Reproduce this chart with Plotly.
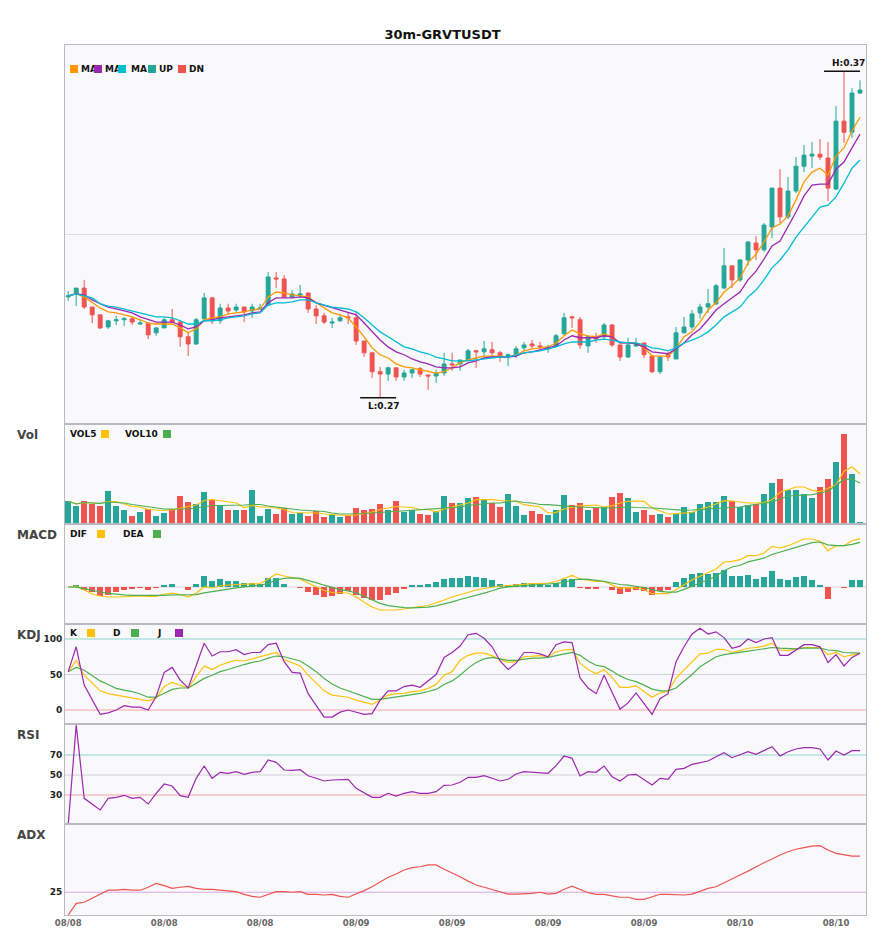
import plotly.graph_objects as go
from plotly.subplots import make_subplots

# ---- data (30m GRVTUSDT, 100 candles) ----
opens = [0.3009, 0.3018, 0.3036, 0.2978, 0.2954, 0.2917, 0.2936, 0.2939, 0.2942, 0.2926,
         0.2929, 0.2899, 0.2914, 0.2939, 0.2932, 0.2887, 0.2865, 0.2942, 0.3006, 0.2936,
         0.2975, 0.2969, 0.2978, 0.2966, 0.2972, 0.2984, 0.3067, 0.3064, 0.3009, 0.3015,
         0.3021, 0.2972, 0.2951, 0.2929, 0.2936, 0.2948, 0.2945, 0.2874, 0.2838, 0.2780,
         0.2773, 0.2792, 0.2764, 0.2776, 0.2789, 0.2770, 0.2767, 0.2776, 0.2804, 0.2804,
         0.2816, 0.2844, 0.2841, 0.2847, 0.2838, 0.2828, 0.2832, 0.2853, 0.2865, 0.2859,
         0.2850, 0.2859, 0.2896, 0.2948, 0.2939, 0.2859, 0.2887, 0.2887, 0.2923, 0.2862,
         0.2825, 0.2859, 0.2868, 0.2828, 0.2780, 0.2832, 0.2819, 0.2899, 0.2917, 0.2960,
         0.2978, 0.2988, 0.3036, 0.3104, 0.3061, 0.3122, 0.3174, 0.3153, 0.3223, 0.3342,
         0.3254, 0.3333, 0.3409, 0.3440, 0.3446, 0.3434, 0.3339, 0.3547, 0.3513, 0.3633]
highs = [0.3027, 0.3036, 0.3061, 0.2978, 0.2954, 0.2939, 0.2951, 0.2948, 0.2948, 0.2942,
         0.2929, 0.2917, 0.2945, 0.2972, 0.2939, 0.2902, 0.2945, 0.3021, 0.3009, 0.2988,
         0.2988, 0.2988, 0.2978, 0.2988, 0.2988, 0.3085, 0.3085, 0.3076, 0.3030, 0.3046,
         0.3021, 0.2984, 0.2960, 0.2945, 0.2957, 0.2963, 0.2960, 0.2874, 0.2838, 0.2795,
         0.2795, 0.2792, 0.2786, 0.2789, 0.2795, 0.2770, 0.2786, 0.2838, 0.2838, 0.2816,
         0.2850, 0.2847, 0.2874, 0.2871, 0.2844, 0.2835, 0.2859, 0.2871, 0.2877, 0.2871,
         0.2862, 0.2896, 0.2960, 0.2951, 0.2948, 0.2890, 0.2899, 0.2929, 0.2926, 0.2862,
         0.2884, 0.2884, 0.2868, 0.2828, 0.2825, 0.2841, 0.2917, 0.2948, 0.2969, 0.2988,
         0.3033, 0.3049, 0.3159, 0.3104, 0.3125, 0.3180, 0.3195, 0.3235, 0.3342, 0.3400,
         0.3376, 0.3437, 0.3474, 0.3483, 0.3492, 0.3483, 0.3593, 0.3700, 0.3648, 0.3672]
lows = [0.2997, 0.2981, 0.2972, 0.2929, 0.2911, 0.2911, 0.2923, 0.2920, 0.2923, 0.2923,
        0.2880, 0.2890, 0.2914, 0.2929, 0.2856, 0.2828, 0.2862, 0.2939, 0.2926, 0.2926,
        0.2954, 0.2960, 0.2932, 0.2945, 0.2969, 0.2981, 0.3036, 0.3006, 0.3006, 0.3006,
        0.2960, 0.2926, 0.2926, 0.2914, 0.2932, 0.2926, 0.2862, 0.2825, 0.2761, 0.2700,
        0.2752, 0.2752, 0.2752, 0.2761, 0.2764, 0.2725, 0.2746, 0.2767, 0.2783, 0.2783,
        0.2813, 0.2792, 0.2828, 0.2822, 0.2810, 0.2798, 0.2822, 0.2844, 0.2850, 0.2847,
        0.2838, 0.2856, 0.2890, 0.2914, 0.2850, 0.2838, 0.2868, 0.2880, 0.2856, 0.2813,
        0.2822, 0.2856, 0.2822, 0.2776, 0.2773, 0.2813, 0.2819, 0.2899, 0.2908, 0.2942,
        0.2960, 0.2984, 0.3033, 0.3036, 0.3055, 0.3104, 0.3122, 0.3147, 0.3189, 0.3235,
        0.3247, 0.3327, 0.3391, 0.3403, 0.3428, 0.3302, 0.3336, 0.3480, 0.3495, 0.3630]
closes = [0.3012, 0.3036, 0.2978, 0.2954, 0.2914, 0.2936, 0.2939, 0.2942, 0.2932, 0.2929,
          0.2893, 0.2914, 0.2939, 0.2932, 0.2887, 0.2865, 0.2939, 0.3006, 0.2936, 0.2975,
          0.2966, 0.2978, 0.2963, 0.2978, 0.2975, 0.3070, 0.3064, 0.3009, 0.3018, 0.3018,
          0.2972, 0.2951, 0.2932, 0.2932, 0.2945, 0.2945, 0.2874, 0.2838, 0.2780, 0.2773,
          0.2792, 0.2764, 0.2776, 0.2786, 0.2773, 0.2767, 0.2776, 0.2804, 0.2801, 0.2816,
          0.2844, 0.2841, 0.2850, 0.2838, 0.2825, 0.2832, 0.2850, 0.2862, 0.2859, 0.2856,
          0.2856, 0.2890, 0.2945, 0.2945, 0.2862, 0.2887, 0.2880, 0.2923, 0.2862, 0.2825,
          0.2862, 0.2862, 0.2832, 0.2780, 0.2825, 0.2825, 0.2899, 0.2917, 0.2957, 0.2978,
          0.2988, 0.3043, 0.3104, 0.3061, 0.3122, 0.3177, 0.3153, 0.3229, 0.3342, 0.3254,
          0.3333, 0.3409, 0.3443, 0.3446, 0.3437, 0.3342, 0.3547, 0.3513, 0.3633, 0.3642]

ma5 = [0.3012, 0.3018, 0.3009, 0.2991, 0.2975, 0.2963, 0.2960, 0.2954, 0.2948, 0.2939,
       0.2929, 0.2926, 0.2926, 0.2926, 0.2914, 0.2899, 0.2911, 0.2939, 0.2945, 0.2948,
       0.2957, 0.2960, 0.2963, 0.2969, 0.2972, 0.3009, 0.3024, 0.3021, 0.3015, 0.3012,
       0.3009, 0.2991, 0.2975, 0.2960, 0.2954, 0.2945, 0.2917, 0.2887, 0.2853, 0.2832,
       0.2822, 0.2804, 0.2795, 0.2792, 0.2786, 0.2780, 0.2776, 0.2780, 0.2792, 0.2807,
       0.2816, 0.2822, 0.2828, 0.2828, 0.2828, 0.2825, 0.2832, 0.2844, 0.2850, 0.2853,
       0.2856, 0.2868, 0.2890, 0.2908, 0.2896, 0.2890, 0.2887, 0.2896, 0.2887, 0.2868,
       0.2868, 0.2868, 0.2853, 0.2828, 0.2828, 0.2828, 0.2850, 0.2887, 0.2902, 0.2932,
       0.2969, 0.2991, 0.3024, 0.3043, 0.3067, 0.3113, 0.3140, 0.3177, 0.3220, 0.3232,
       0.3257, 0.3306, 0.3361, 0.3391, 0.3403, 0.3382, 0.3440, 0.3465, 0.3517, 0.3559]
ma10 = [0.3012, 0.3018, 0.3015, 0.3000, 0.2988, 0.2978, 0.2972, 0.2966, 0.2960, 0.2948,
        0.2939, 0.2932, 0.2932, 0.2932, 0.2923, 0.2911, 0.2917, 0.2936, 0.2939, 0.2945,
        0.2948, 0.2951, 0.2954, 0.2960, 0.2963, 0.2991, 0.3006, 0.3006, 0.3006, 0.3009,
        0.3006, 0.2991, 0.2984, 0.2975, 0.2969, 0.2963, 0.2954, 0.2929, 0.2902, 0.2877,
        0.2856, 0.2841, 0.2832, 0.2819, 0.2810, 0.2804, 0.2795, 0.2792, 0.2792, 0.2795,
        0.2807, 0.2813, 0.2822, 0.2825, 0.2825, 0.2825, 0.2828, 0.2838, 0.2841, 0.2847,
        0.2853, 0.2859, 0.2877, 0.2890, 0.2884, 0.2884, 0.2884, 0.2890, 0.2887, 0.2868,
        0.2868, 0.2865, 0.2856, 0.2841, 0.2838, 0.2835, 0.2850, 0.2868, 0.2893, 0.2911,
        0.2939, 0.2969, 0.2988, 0.3006, 0.3024, 0.3061, 0.3088, 0.3125, 0.3165, 0.3180,
        0.3223, 0.3269, 0.3318, 0.3351, 0.3354, 0.3354, 0.3400, 0.3422, 0.3465, 0.3507]
ma20 = [0.3012, 0.3018, 0.3012, 0.3006, 0.2988, 0.2981, 0.2978, 0.2972, 0.2966, 0.2960,
        0.2954, 0.2948, 0.2948, 0.2945, 0.2936, 0.2926, 0.2926, 0.2936, 0.2936, 0.2939,
        0.2945, 0.2948, 0.2951, 0.2957, 0.2960, 0.2984, 0.2991, 0.2991, 0.2994, 0.3000,
        0.3000, 0.2991, 0.2984, 0.2978, 0.2975, 0.2972, 0.2963, 0.2945, 0.2923, 0.2902,
        0.2887, 0.2871, 0.2856, 0.2850, 0.2841, 0.2835, 0.2825, 0.2819, 0.2813, 0.2813,
        0.2813, 0.2816, 0.2819, 0.2822, 0.2825, 0.2825, 0.2832, 0.2838, 0.2841, 0.2844,
        0.2850, 0.2856, 0.2865, 0.2871, 0.2871, 0.2871, 0.2877, 0.2880, 0.2877, 0.2871,
        0.2868, 0.2868, 0.2862, 0.2853, 0.2850, 0.2844, 0.2853, 0.2868, 0.2877, 0.2887,
        0.2902, 0.2923, 0.2948, 0.2963, 0.2978, 0.3009, 0.3030, 0.3061, 0.3098, 0.3122,
        0.3153, 0.3192, 0.3223, 0.3254, 0.3284, 0.3290, 0.3315, 0.3357, 0.3403, 0.3428]

volume = [227, 177, 233, 200, 177, 327, 177, 137, 83, 117,
          150, 77, 107, 150, 277, 217, 203, 317, 243, 193,
          137, 143, 137, 337, 77, 153, 103, 160, 103, 110,
          77, 127, 67, 90, 67, 83, 157, 143, 153, 203,
          137, 233, 117, 143, 103, 90, 127, 283, 213, 213,
          263, 273, 243, 210, 167, 303, 183, 93, 133, 103,
          93, 137, 293, 193, 213, 143, 160, 170, 273, 313,
          263, 123, 137, 93, 103, 73, 103, 173, 123, 203,
          223, 223, 283, 233, 167, 187, 203, 303, 413, 453,
          340, 343, 303, 263, 373, 453, 623, 903, 503, 23]
vol5 = [227, 200, 215, 210, 205, 225, 225, 200, 175, 170,
        145, 140, 135, 140, 160, 175, 190, 235, 245, 235,
        220, 210, 165, 185, 170, 170, 160, 145, 115, 115,
        110, 110, 100, 95, 85, 85, 90, 105, 120, 145,
        160, 175, 170, 165, 145, 145, 120, 150, 170, 190,
        210, 243, 243, 243, 235, 233, 225, 193, 180, 170,
        110, 117, 150, 165, 183, 183, 190, 170, 183, 210,
        227, 230, 227, 160, 130, 100, 103, 110, 115, 150,
        170, 200, 233, 230, 217, 210, 210, 215, 243, 317,
        343, 370, 370, 337, 323, 360, 393, 527, 570, 503]
vol10 = [227, 200, 215, 210, 207, 220, 215, 210, 195, 185,
         175, 160, 150, 150, 150, 150, 160, 175, 185, 185,
         185, 190, 190, 195, 195, 180, 170, 155, 150, 140,
         135, 130, 125, 110, 100, 100, 100, 105, 110, 115,
         120, 130, 135, 140, 145, 150, 150, 155, 165, 170,
         185, 195, 200, 210, 210, 225, 230, 215, 210, 195,
         193, 185, 180, 175, 170, 165, 165, 160, 160, 165,
         170, 165, 165, 160, 155, 150, 145, 137, 140, 145,
         150, 155, 160, 165, 170, 183, 195, 205, 220, 250,
         280, 285, 290, 293, 310, 327, 387, 443, 450, 410]

dif = [0.0, 0.0001, -0.0003, -0.0007, -0.0009, -0.001, -0.001, -0.00095, -0.0009, -0.0009,
       -0.00095, -0.00095, -0.0007, -0.0006, -0.00075, -0.001, -0.0006, 0.0, -0.0001, 0.0001,
       0.0002, 0.00025, 0.00027, 0.0003, 0.00035, 0.0008, 0.0013, 0.0011, 0.00095, 0.0008,
       0.0004, 0.0, -0.00035, -0.00055, -0.0006, -0.0006, -0.001, -0.0015, -0.002, -0.0023,
       -0.0023, -0.0023, -0.0022, -0.00205, -0.00195, -0.00185, -0.0016, -0.0013, -0.001, -0.00075,
       -0.00053, -0.0003, -0.00015, 0.0, 0.0001, 0.00015, 0.00023, 0.0003, 0.00033, 0.00035,
       0.0004, 0.00055, 0.00085, 0.00115, 0.0008, 0.0007, 0.00055, 0.00055, 0.00023, -0.00013,
       -0.00007, -0.0001, -0.00027, -0.00067, -0.00067, -0.00067, -0.00027, 0.00023, 0.00073, 0.00107,
       0.0014, 0.0018, 0.0025, 0.00257, 0.00273, 0.00313, 0.00313, 0.0034, 0.00407, 0.0039,
       0.00413, 0.00447, 0.0048, 0.0048, 0.00457, 0.00363, 0.00413, 0.00413, 0.00463, 0.00483]
dea = [0.0, -0.00002, -0.00017, -0.00035, -0.0005, -0.00063, -0.00073, -0.00079, -0.00083, -0.00085,
       -0.00087, -0.00088, -0.00084, -0.00078, -0.00077, -0.00082, -0.00076, -0.00058, -0.00044, -0.00031,
       -0.00018, -0.00009, 0.00002, 0.0001, 0.00018, 0.00035, 0.0007, 0.00086, 0.00092, 0.00086,
       0.00068, 0.00043, 0.00018, -0.00006, -0.00026, -0.00039, -0.00059, -0.00092, -0.00132, -0.00164,
       -0.00187, -0.00199, -0.00206, -0.00208, -0.00206, -0.00201, -0.00188, -0.00171, -0.00148, -0.00125,
       -0.00106, -0.00083, -0.00061, -0.00038, -0.00012, 0.00002, 0.00007, 0.0001, 0.00013, 0.00019,
       0.0003, 0.00036, 0.00045, 0.0007, 0.00079, 0.00076, 0.00067, 0.00056, 0.0004, 0.00025,
       0.00018, 0.00007, -0.00005, -0.00025, -0.00044, -0.00052, -0.00052, -0.00024, 0.00006, 0.00035,
       0.00073, 0.00108, 0.00163, 0.002, 0.00217, 0.00251, 0.00271, 0.00288, 0.00325, 0.00348,
       0.00376, 0.00395, 0.00423, 0.00443, 0.0045, 0.00422, 0.00413, 0.00414, 0.00426, 0.00446]
macd_hist = [0.0, 0.00023, -0.00027, -0.00053, -0.00087, -0.00077, -0.00047, -0.00027, -0.00013, -0.00007,
             -0.00027, -0.00007, 0.00023, 0.00033, 0.0, -0.00027, 0.0003, 0.00113, 0.00063, 0.0008,
             0.00063, 0.00063, 0.0004, 0.0004, 0.00033, 0.0009, 0.0009, 0.00033, 0.0, -0.00003,
             -0.00053, -0.00083, -0.00103, -0.00093, -0.00067, -0.00043, -0.00083, -0.0011, -0.00127, -0.00133,
             -0.00083, -0.00063, -0.00023, 0.00013, 0.00023, 0.00033, 0.00053, 0.00083, 0.00093, 0.00093,
             0.00113, 0.00103, 0.00093, 0.00073, 0.00033, 0.00023, 0.00033, 0.00043, 0.00043, 0.00033,
             0.00013, 0.0004, 0.00083, 0.00083, -0.00007, -0.00013, -0.00023, 0.0, -0.00033, -0.00073,
             -0.00053, -0.00033, -0.00043, -0.00083, -0.00043, -0.00027, 0.00053, 0.00093, 0.00133, 0.00143,
             0.00133, 0.00143, 0.00173, 0.00113, 0.00113, 0.00123, 0.00083, 0.00103, 0.00163, 0.00083,
             0.00073, 0.00103, 0.00113, 0.00073, 0.00013, -0.00117, 0.0, -0.00003, 0.00073, 0.00073]

k_line = [54, 70, 49, 38, 27, 23, 21, 20, 18, 15.5,
          13, 17, 33, 39, 35, 31, 47, 62, 57, 63,
          67, 70, 69, 72, 74, 78, 81, 71, 67, 62,
          49, 38, 27, 21, 20, 18, 14, 11, 8, 14,
          21, 23, 23.5, 26, 27, 30.5, 36, 49, 54, 70,
          77, 80, 80, 76.5, 71, 67, 68, 75, 76, 76.5,
          75, 82, 84.5, 85.5, 66, 57, 51, 57, 46, 32,
          32, 34, 26, 18, 24, 26, 45, 56, 68, 79,
          80, 85.5, 85.5, 81, 83.5, 87, 88, 90, 94, 84.5,
          83.5, 85.5, 88, 88, 88, 78, 81, 75, 78, 80]
d_line = [54, 60, 56, 49, 41, 36, 30.5, 28, 26, 22.5,
          18, 18, 23.5, 29, 31, 31, 37.5, 44.5, 49, 54,
          57, 61, 64, 67, 69, 73, 76, 75, 72, 69,
          62, 54, 44.5, 36.6, 31, 27, 22.5, 18, 15, 15,
          16.5, 18, 20, 22, 23.5, 26, 29, 36, 41, 49,
          59, 67, 72, 74, 72, 70, 70, 72, 73, 73,
          74, 76.5, 79, 81, 77, 69, 63, 61, 55, 48,
          43, 40, 35, 29.5, 27, 27, 31, 40, 50, 61,
          68, 75, 78, 80, 81, 83, 84.5, 86, 88, 87,
          86, 86, 87, 87, 87, 84.5, 83.5, 81, 80, 80]
j_line = [54, 89, 35, 14, -6, -4, 0, 6, 4, 4,
          0, 19, 53, 60, 42, 31, 61, 94, 76, 82,
          82, 85, 78, 81, 81, 92, 94, 68, 53, 52,
          23, 6, -10, -10, -3, 0, -3, -6, -5, 14,
          27, 27, 33, 35, 32, 41, 50, 74, 81, 90,
          106, 108, 101, 89, 69, 57, 66, 81, 81, 79,
          75, 92, 96, 95, 45, 31, 23, 49, 24, 1,
          10, 24, 9, -6, 16, 23, 68, 89, 107, 115,
          107, 110, 102, 87, 90, 100, 95, 100, 102, 77,
          77, 85, 92, 92, 89, 67, 78, 62, 74, 80]

rsi = [0, 100, 26.7, 20.7, 15, 26.7, 27.7, 29.7, 26.7, 27.7,
       21, 31.7, 41, 39, 29.3, 27.7, 46.7, 59, 46.7, 52.7,
       51.7, 53.3, 50.7, 52.7, 53.3, 65, 62.7, 55, 54.7, 55.3,
       49.3, 46.7, 44, 45, 45.7, 45.7, 36.7, 32.3, 27.7, 27.7,
       31.7, 29, 31.7, 33.3, 31.7, 31.7, 33.3, 39.7, 40, 42.7,
       47.7, 47.7, 49.3, 46.7, 44, 45.7, 51, 53.3, 52.7, 51.7,
       51.7, 59.3, 69, 66.7, 49, 53.3, 52.7, 59, 48.3, 44,
       50, 50.7, 45, 40, 46.7, 45.7, 55.7, 56.7, 60.7, 62.7,
       64, 68.3, 72.3, 67.3, 70.7, 73.3, 70.7, 74.3, 78.3, 69,
       73.3, 76, 77.3, 77.3, 76, 65, 74, 70, 74.3, 74.3]

adx = [15, 20.1, 20.6, 22.3, 24.2, 25.9, 25.9, 26.3, 25.9, 25.9,
       27.2, 28.9, 27.9, 26.7, 27.2, 27.6, 26.7, 26.3, 26.3, 25.9,
       25.4, 25.3, 24.1, 23.2, 22.8, 24.1, 25.3, 25.3, 25, 25.3,
       24.1, 24.1, 23.8, 24.1, 23.2, 22.8, 24.2, 25.7, 27.4, 29.6,
       31.6, 33, 34.8, 35.8, 36.2, 37, 37, 35.1, 33.5, 31.8,
       29.9, 28.2, 27.2, 26.3, 25.3, 24.2, 24.2, 24.2, 24.5, 25,
       24.2, 24.5, 26.3, 27.7, 26.3, 24.8, 24.1, 24.1, 23.4, 22.8,
       22.8, 21.9, 21.9, 23.1, 24.1, 24.1, 23.8, 23.8, 24.2, 25.3,
       26.7, 27.4, 29.2, 31.1, 32.6, 34.3, 36.2, 38, 39.6, 41.4,
       42.8, 43.9, 44.6, 45.3, 45.5, 43.6, 42.1, 41.4, 40.9, 40.9]

tick_pos = [0, 12, 24, 36, 48, 60, 72, 84, 96]
tick_labels = ["08/08", "08/08", "08/08", "08/09", "08/09", "08/09", "08/09", "08/10", "08/10"]

# ---- styling ----
UP, DN = "#26a69a", "#ef5350"
ORANGE, PURPLE, CYAN = "#ff9800", "#9c27b0", "#00bcd4"
YELLOW, GREEN = "#ffc107", "#4caf50"
FONT = "DejaVu Sans"

idx = list(range(len(closes)))
vol_colors = [UP if c >= o else DN for o, c in zip(opens, closes)]
hist_colors = [UP if h >= 0 else DN for h in macd_hist]

fig = make_subplots(rows=6, cols=1, shared_xaxes=True, vertical_spacing=0,
                    row_heights=[379, 100, 100, 100, 100, 91])

# price
fig.add_trace(go.Candlestick(x=idx, open=opens, high=highs, low=lows, close=closes,
                             increasing=dict(line=dict(color=UP, width=1), fillcolor=UP),
                             decreasing=dict(line=dict(color=DN, width=1), fillcolor=DN)),
              row=1, col=1)
for ser, col in [(ma5, ORANGE), (ma10, PURPLE), (ma20, CYAN)]:
    fig.add_trace(go.Scatter(x=idx, y=ser, mode="lines", line=dict(color=col, width=1.3)), row=1, col=1)

# volume
fig.add_trace(go.Bar(x=idx, y=volume, marker_color=vol_colors, marker_line_width=0, width=0.78), row=2, col=1)
fig.add_trace(go.Scatter(x=idx, y=vol5, mode="lines", line=dict(color=YELLOW, width=1.2)), row=2, col=1)
fig.add_trace(go.Scatter(x=idx, y=vol10, mode="lines", line=dict(color=GREEN, width=1.2)), row=2, col=1)

# macd
fig.add_trace(go.Bar(x=idx, y=macd_hist, marker_color=hist_colors, marker_line_width=0, width=0.78), row=3, col=1)
fig.add_trace(go.Scatter(x=idx, y=dif, mode="lines", line=dict(color=YELLOW, width=1.2)), row=3, col=1)
fig.add_trace(go.Scatter(x=idx, y=dea, mode="lines", line=dict(color=GREEN, width=1.2)), row=3, col=1)

# kdj
fig.add_trace(go.Scatter(x=idx, y=k_line, mode="lines", line=dict(color=YELLOW, width=1.2)), row=4, col=1)
fig.add_trace(go.Scatter(x=idx, y=d_line, mode="lines", line=dict(color=GREEN, width=1.2)), row=4, col=1)
fig.add_trace(go.Scatter(x=idx, y=j_line, mode="lines", line=dict(color=PURPLE, width=1.2)), row=4, col=1)

# rsi / adx
fig.add_trace(go.Scatter(x=idx, y=rsi, mode="lines", line=dict(color=PURPLE, width=1.2)), row=5, col=1)
fig.add_trace(go.Scatter(x=idx, y=adx, mode="lines", line=dict(color=DN, width=1.2)), row=6, col=1)

# reference lines
TEAL_L, GREY_L, RED_L = "#8fd3cc", "#d2d2d6", "#f5a3a3"
for y, c, r in [(0.32, "#dcdce2", 1), (0, "#d6d6da", 3),
                (100, TEAL_L, 4), (50, GREY_L, 4), (0, RED_L, 4),
                (70, TEAL_L, 5), (50, GREY_L, 5), (30, RED_L, 5),
                (25, "#d7a6e0", 6)]:
    fig.add_hline(y=y, row=r, col=1, line=dict(color=c, width=1), layer="below")

# axes
AXC = "#b9b9c1"
fig.update_xaxes(range=[-0.4, 99.75], showgrid=False, zeroline=False, showline=True,
                 mirror=True, linecolor=AXC, linewidth=1, rangeslider_visible=False,
                 ticks="", showticklabels=False)
fig.update_xaxes(row=6, col=1, showticklabels=True, tickmode="array", tickvals=tick_pos,
                 ticktext=tick_labels, tickfont=dict(family=FONT, size=8.5, color="#666", weight="bold"))
fig.update_yaxes(showgrid=False, zeroline=False, showline=True, mirror=True,
                 linecolor=AXC, linewidth=1, ticks="", showticklabels=False)
tickfont = dict(family=FONT, size=9, color="#222", weight="bold")
fig.update_yaxes(row=1, col=1, range=[0.262, 0.378])
fig.update_yaxes(row=2, col=1, range=[0, 1000])
fig.update_yaxes(row=3, col=1, range=[-0.0037, 0.0063])
fig.update_yaxes(row=4, col=1, range=[-19.7, 121.1], showticklabels=True, tickmode="array",
                 tickvals=[0, 50, 100], ticktext=["0", "50", "100"], tickfont=tickfont)
fig.update_yaxes(row=5, col=1, range=[1, 101], showticklabels=True, tickmode="array",
                 tickvals=[30, 50, 70], ticktext=["30", "50", "70"], tickfont=tickfont)
fig.update_yaxes(row=6, col=1, range=[15, 55], showticklabels=True, tickmode="array",
                 tickvals=[25], ticktext=["25"], tickfont=tickfont)

# ---- page geometry (page body has an 8px margin) ----
OFF = 8
W, H = 885 - 2 * OFF, 950 - 2 * OFF
PL, PR, PT, PB = 65, 866, 45, 915      # plot area as seen in the screenshot


def px(x):
    return (x - PL) / (PR - PL)


def py(y):
    return (PB - y) / (PB - PT)


annotations = []


def label(text, x, y, size=9, color="#111"):
    annotations.append(dict(text=text, x=px(x - 2), y=py(y), xref="paper", yref="paper",
                            xanchor="left", yanchor="middle", showarrow=False,
                            font=dict(family=FONT, size=size, color=color, weight="bold")))


squares = []


def square(x, y, color):
    squares.append(dict(text=" ", x=px(x), y=py(y), xref="paper", yref="paper",
                        xanchor="left", yanchor="middle", showarrow=False,
                        width=8, height=8, borderpad=0, borderwidth=0, bgcolor=color,
                        font=dict(size=6)))


# panel names
for name, y in [("Vol", 435), ("MACD", 535), ("KDJ", 635), ("RSI", 735), ("ADX", 835)]:
    label(name, 17, y, size=12, color="#444")

# in-panel legends (squares drawn after the text so they sit on top)
for t, x in [("MA", 81), ("MA", 105), ("MA", 131), ("UP", 159), ("DN", 189)]:
    label(t, x, 69)
for x, c in [(70, ORANGE), (94, PURPLE), (118, CYAN), (148, UP), (178, DN)]:
    square(x, 69, c)
for t, x in [("VOL5", 70), ("VOL10", 125)]:
    label(t, x, 434)
square(101, 434, YELLOW)
square(163, 434, GREEN)
for t, x in [("DIF", 70), ("DEA", 123)]:
    label(t, x, 534)
square(97, 534, YELLOW)
square(153, 534, GREEN)
for t, x in [("K", 70), ("D", 113), ("J", 157)]:
    label(t, x, 633)
square(87, 633, YELLOW)
square(131, 633, GREEN)
square(175, 633, PURPLE)

# high / low markers
hi_i = max(idx, key=lambda i: highs[i])
lo_i = min(idx, key=lambda i: lows[i])
fig.add_shape(type="line", xref="x", yref="y", x0=hi_i - 2.5, x1=hi_i + 2,
              y0=highs[hi_i], y1=highs[hi_i], line=dict(color="#111", width=1.5))
fig.add_shape(type="line", xref="x", yref="y", x0=lo_i - 2.5, x1=lo_i + 2,
              y0=lows[lo_i], y1=lows[lo_i], line=dict(color="#111", width=1.5))
annotations.append(dict(text="H:%.2f" % highs[hi_i], x=hi_i + 0.5, y=highs[hi_i], xref="x", yref="y",
                        xanchor="center", yanchor="bottom", yshift=1, showarrow=False,
                        font=dict(family=FONT, size=9, color="#111", weight="bold")))
annotations.append(dict(text="L:%.2f" % lows[lo_i], x=lo_i + 0.5, y=lows[lo_i], xref="x", yref="y",
                        xanchor="center", yanchor="top", yshift=-1, showarrow=False,
                        font=dict(family=FONT, size=9, color="#111", weight="bold")))

fig.update_layout(
    width=W, height=H, autosize=False,
    margin=dict(l=PL - OFF, r=W - (PR - OFF), t=PT - OFF, b=H - (PB - OFF)),
    paper_bgcolor="white", plot_bgcolor="#f9f9fb",
    showlegend=False, bargap=0,
    title=dict(text="30m-GRVTUSDT", x=0.5, xanchor="center", y=1 - (34 - OFF) / H, yanchor="middle",
               font=dict(family=FONT, size=13, color="#111", weight="bold")),
    annotations=annotations + squares,
)

fig.write_html("out.html")
